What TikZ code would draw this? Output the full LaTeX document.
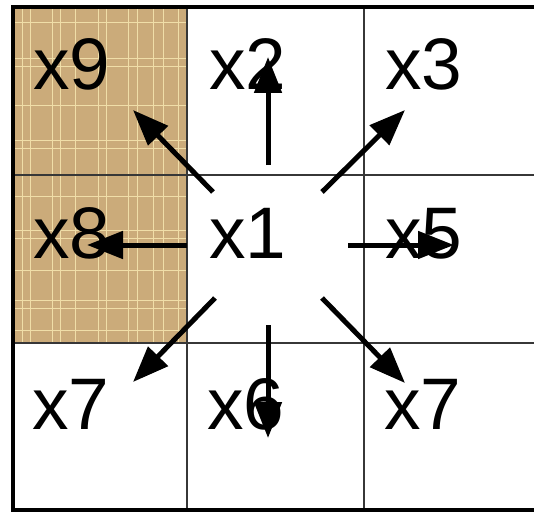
\documentclass[tikz,border=0pt]{standalone}
\usepackage{fontspec}
\setmainfont{Liberation Sans}
\usetikzlibrary{arrows.meta}
\definecolor{tanfill}{RGB}{203,171,122}
\definecolor{tanline}{RGB}{240,222,168}
\definecolor{gridgray}{RGB}{55,55,55}

\begin{document}
\begin{tikzpicture}[x=1pt,y=-1pt,
	cellline/.style={gridgray, line width=2.2pt},
	frame/.style={black, line width=4pt},
	lbl/.style={anchor=base west, inner sep=0pt, font=\fontsize{73}{80}\selectfont},
	pointer/.style={line width=5pt, -{Triangle[length=36pt,width=27pt]}}]
	\useasboundingbox (0,0) rectangle (534,513);
	\clip (0,0) rectangle (534,513);
	% shaded cells
	\fill[tanfill] (13,7) rectangle (187,343);
	\foreach \x in {22,30,52,60,75,98,106,128,137,153,163,178} {
		\draw[tanline, line width=0.7pt] (\x,7) -- (\x,343);
	}
	\foreach \y in {22,58,66,105,140,148,196,230,238,270,300,308,330} {
		\draw[tanline, line width=0.7pt] (13,\y) -- (187,\y);
	}
	% grid
	\foreach \x in {187,364} {
		\draw[cellline] (\x,7) -- (\x,510);
	}
	\foreach \y in {175,343} {
		\draw[cellline] (13,\y) -- (541,\y);
	}
	\draw[frame] (13,7) rectangle (541,510);
	% labels
	\node[lbl] (n9) at (33,90) {x9};
	\node[lbl] (n2) at (209,90) {x2};
	\node[lbl] (n3) at (385,90) {x3};
	\node[lbl] (n8) at (33,258) {x8};
	\node[lbl] (n1) at (209,258) {x1};
	\node[lbl] (n5) at (385,258) {x5};
	\node[lbl] (n7a) at (32,429) {x7};
	\node[lbl] (n6) at (207,429) {x6};
	\node[lbl] (n7b) at (384,429) {x7};
	% arrow ends
	\coordinate (t9) at (213,192);  \coordinate (h9) at (133,110);
	\coordinate (t2) at (268,165);  \coordinate (h2) at (268,57);
	\coordinate (t3) at (322,192);  \coordinate (h3) at (405,110);
	\coordinate (t8) at (187,245);  \coordinate (h8) at (87,245);
	\coordinate (t5) at (348,245);  \coordinate (h5) at (454,245);
	\coordinate (t7a) at (215,298); \coordinate (h7a) at (133,382);
	\coordinate (t6) at (268,325);  \coordinate (h6) at (268,438);
	\coordinate (t7b) at (322,298); \coordinate (h7b) at (405,383);
	\foreach \k in {9,2,3,8,5,7a,6,7b} {
		\draw[pointer] (t\k) -- (h\k);
	}
\end{tikzpicture}
\end{document}
